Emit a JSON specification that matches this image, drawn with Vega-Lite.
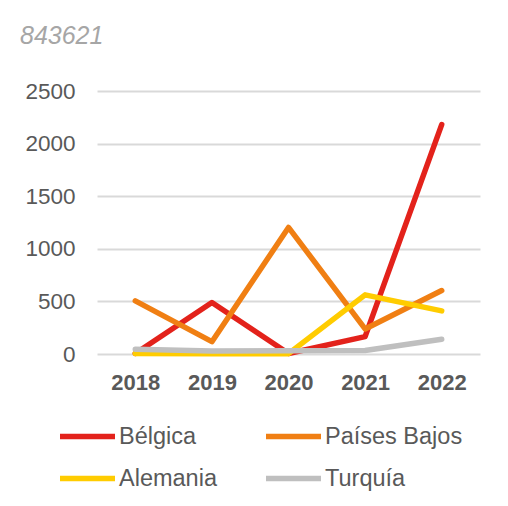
{
  "$schema": "https://vega.github.io/schema/vega-lite/v6.json",
  "autosize": "none",
  "width": 383,
  "height": 263,
  "padding": {"left": 97, "top": 91, "right": 28, "bottom": 152},
  "background": "white",
  "title": {
    "text": "843621",
    "anchor": "start",
    "frame": "group",
    "dx": -77,
    "offset": 31,
    "font": "Liberation Sans",
    "fontSize": 25,
    "fontStyle": "italic",
    "fontWeight": "normal",
    "color": "#A6A6A6"
  },
  "config": {
    "view": {"stroke": null},
    "font": "Liberation Sans"
  },
  "data": {
    "values": [
      {"year": "2018", "country": "Bélgica", "value": 5},
      {"year": "2019", "country": "Bélgica", "value": 490},
      {"year": "2020", "country": "Bélgica", "value": 5},
      {"year": "2021", "country": "Bélgica", "value": 165},
      {"year": "2022", "country": "Bélgica", "value": 2180},
      {"year": "2018", "country": "Países Bajos", "value": 505},
      {"year": "2019", "country": "Países Bajos", "value": 117},
      {"year": "2020", "country": "Países Bajos", "value": 1203},
      {"year": "2021", "country": "Países Bajos", "value": 238},
      {"year": "2022", "country": "Países Bajos", "value": 603},
      {"year": "2018", "country": "Alemania", "value": 5},
      {"year": "2019", "country": "Alemania", "value": 3},
      {"year": "2020", "country": "Alemania", "value": 3},
      {"year": "2021", "country": "Alemania", "value": 562},
      {"year": "2022", "country": "Alemania", "value": 410},
      {"year": "2018", "country": "Turquía", "value": 45},
      {"year": "2019", "country": "Turquía", "value": 29},
      {"year": "2020", "country": "Turquía", "value": 32},
      {"year": "2021", "country": "Turquía", "value": 33},
      {"year": "2022", "country": "Turquía", "value": 140}
    ]
  },
  "mark": {"type": "line", "strokeWidth": 5.5, "strokeCap": "round", "strokeJoin": "round"},
  "encoding": {
    "x": {
      "field": "year",
      "type": "ordinal",
      "scale": {"type": "point", "padding": 0.5},
      "axis": {
        "title": null,
        "labelAngle": 0,
        "labelFontSize": 22,
        "labelFontWeight": "bold",
        "labelColor": "#595959",
        "labelPadding": 18,
        "domain": false,
        "ticks": false,
        "grid": false
      }
    },
    "y": {
      "field": "value",
      "type": "quantitative",
      "scale": {"domain": [0, 2500], "nice": false},
      "axis": {
        "title": null,
        "values": [0, 500, 1000, 1500, 2000, 2500],
        "format": "d",
        "labelFontSize": 22.5,
        "labelColor": "#595959",
        "labelPadding": 22,
        "domain": false,
        "ticks": false,
        "gridColor": "#D9D9D9",
        "gridWidth": 2
      }
    },
    "color": {
      "field": "country",
      "type": "nominal",
      "sort": ["Bélgica", "Países Bajos", "Alemania", "Turquía"],
      "scale": {
        "domain": ["Bélgica", "Países Bajos", "Alemania", "Turquía"],
        "range": ["#E3221B", "#F07F13", "#FFCC00", "#BFBFBF"]
      },
      "legend": {
        "title": null,
        "orient": "none",
        "direction": "horizontal",
        "legendX": -40,
        "legendY": 315,
        "columns": 2,
        "columnPadding": 38,
        "rowPadding": -12,
        "symbolType": "stroke",
        "symbolSize": 3025,
        "symbolStrokeWidth": 5.5,
        "labelFontSize": 23.5,
        "labelColor": "#595959",
        "labelOffset": 1
      }
    },
    "order": {"field": "country"}
  }
}
